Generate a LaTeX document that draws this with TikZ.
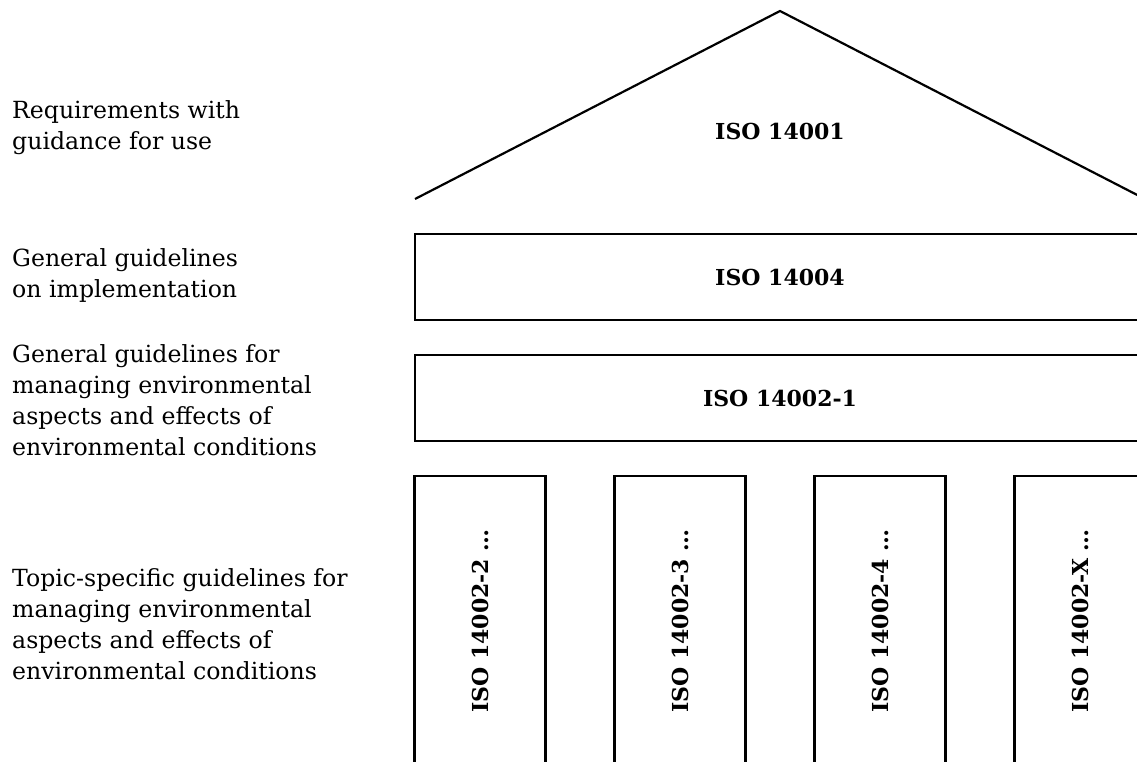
\documentclass[tikz,border=0pt]{standalone}
\usepackage{fontspec}
\setmainfont{DejaVu Serif}
\begin{document}
\begin{tikzpicture}[x=1pt,y=-1pt,
  lbl/.style={anchor=west,align=left,inner sep=0pt,font=\fontsize{23.6}{31}\selectfont},
  bx/.style={draw,line width=2.2pt,minimum width=730pt,minimum height=86pt,inner sep=0pt,font=\bfseries\fontsize{22}{26}\selectfont},
  col/.style={draw,line width=2.2pt,minimum width=131pt,minimum height=290pt,inner sep=0pt},
  coltxt/.style={rotate=90,inner sep=0pt,font=\bfseries\fontsize{22}{26}\selectfont},
  ttl/.style={inner sep=0pt,font=\bfseries\fontsize{22}{26}\selectfont}]
\useasboundingbox (0,0) rectangle (1137,762);
\clip (0,0) rectangle (1137,762);
\coordinate (apex) at (780,11);
\coordinate (bl) at (415,199);
\coordinate (br) at (1145,199);
\draw[line width=2.2pt,line join=miter] (bl) -- (apex) -- (br);
\node[ttl] (t1) at (780,131) {ISO 14001};
\node[bx] (b1) at (780,277) {ISO 14004};
\node[bx] (b2) at (780,398) {ISO 14002-1};
\node[col] (c1) at (480,621) {};
\node[col] (c2) at (680,621) {};
\node[col] (c3) at (880,621) {};
\node[col] (c4) at (1080,621) {};
\node[coltxt] (ct1) at (c1) {ISO 14002-2 …};
\node[coltxt] (ct2) at (c2) {ISO 14002-3 …};
\node[coltxt] (ct3) at (c3) {ISO 14002-4 …};
\node[coltxt] (ct4) at (c4) {ISO 14002-X …};
\node[lbl] (l1) at (12,128) {Requirements with\\guidance for use};
\node[lbl] (l2) at (12,275) {General guidelines\\on implementation};
\node[lbl] (l3) at (12,400) {General guidelines for\\managing environmental\\aspects and effects of\\environmental conditions};
\node[lbl] (l4) at (12,624) {Topic-specific guidelines for\\managing environmental\\aspects and effects of\\environmental conditions};
\end{tikzpicture}
\end{document}
